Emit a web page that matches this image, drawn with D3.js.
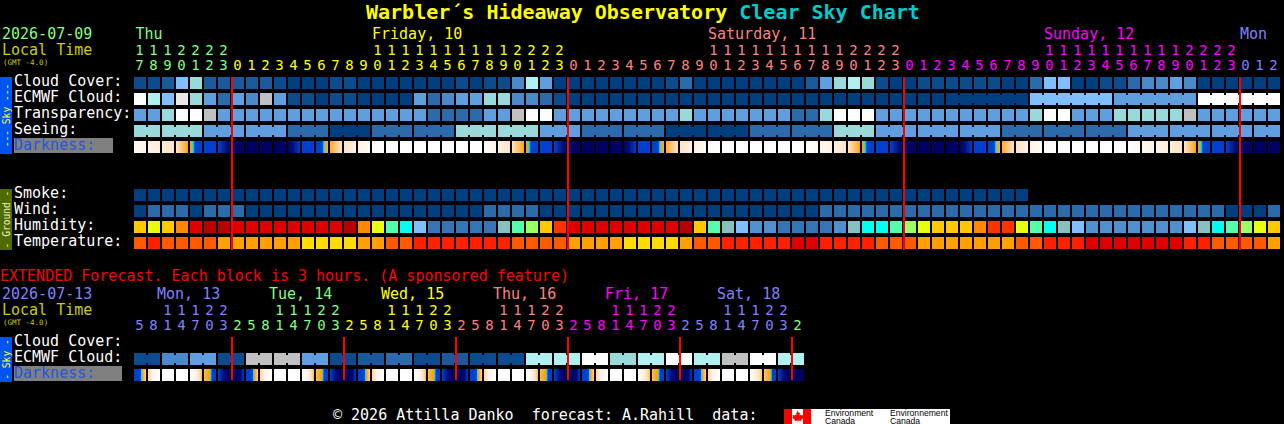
<!DOCTYPE html>
<html><head><meta charset="utf-8">
<script src="https://cdn.jsdelivr.net/npm/d3@7/dist/d3.min.js"></script>
<style>
html,body{margin:0;padding:0;background:#000;overflow:hidden}
svg{display:block}
text{font-family:"DejaVu Sans Mono",monospace;white-space:pre}
</style></head><body>
<svg id="c" width="1284" height="424"></svg>
<script>
// ---------- data ----------
const skyColors = ["#003f7f","#0c4c8c","#1a5a9a","#2b6bab","#4a8aca","#5f9fe0","#7fbfff","#99d9d9","#b0f0f0","#e8e8e8","#c0c0c0","#ffffff"];
const rowLabels = ["Cloud Cover:","ECMWF Cloud:","Transparency:","Seeing:","Darkness:"];
const groundLabels = ["Smoke:","Wind:","Humidity:","Temperature:"];

const cloudCover = [1,1,2,6,7,2,2,2,2,2,1,0,0,0,1,1,0,0,0,0,0,
  0,0,1,0,1,1,4,8,5,0,0,0,0,0,0,0,0,1,3,0,0,0,0,0,0,0,0,2,5,7,8,
  7,1,0,0,1,1,1,1,1,1,0,0,3,6,6,0,0,1,1,3,4,4,5,4,0,0,0,0,0,0];
const ecmwfCloud = [11,8,6,9,7,5,3,5,4,10,5,1,1,0,1,1,0,0,0,0,5,3,4,5,5,7,7,4,4,3,1,
  0,0,0,0,0,0,0,0,0,0,0,0,0,0,0,0,0,0,0,0,0,0,0,0,0,0,0,0,0,0,0,0,0,
  6,6,6,6,6,6,5,5,5,5,5,5,11,11,11,11,11,11];
const ecmwfBlocks = [1,1,1,1,1,1,1,1,1,1,1,1,1,1,1,1,1,1,1,1,1,1,1,1,1,1,1,1,1,
  1,1,1,1,1,1,1,1,1,1,1,1,1,1,1,1,1,1,1,1,1,1,1,1,1,1,1,1,1,6,6,6,6];
const transparency = [5,5,7,11,11,10,5,5,5,5,5,5,5,5,5,5,5,5,5,5,5,3,3,3,3,5,5,10,11,11,
  5,5,5,5,5,5,5,5,5,7,5,5,5,5,5,5,5,3,3,7,11,11,11,
  5,5,5,5,5,5,5,5,5,5,5,7,11,11,5,5,5,7,7,7,7,7,10,5,5,5,5,5,5];
const seeingBlockValues = [7,7,5,5,3,0,3,3,7,7,5,3,3,0,0,3,3,7,5,5,5,3,3,3,5,5,5,5];
const seeingBlocks = [2,3,3,3,3,3,3,3,3,3,3,3,3,3,3,3,3,3,3,3,3,3,3,3,3,3,3,2];
// darkness index at the left edge of each hour block (0 daylight .. 7 full dark)
const darkness = [0.4,0.9,1.3,1.8,3.5,5,5,6.2,7,7,7,6.5,5,5,3.3,1.9,1,0.3,0,0,0,0,0,0,
  0,0,1,1.9,3.5,5,5,6.2,7,7,7,6.5,5,5,3.3,1.9,1,0.3,0,0,0,0,0,0,
  0,0.5,1,1.8,3.5,5,5,6.2,7,7,7,6.5,5,5,3.3,1.9,1,0.3,0,0,0,0,0,0,
  0.5,0.9,1.3,1.8,3.5,5,5,6.2,7,7,7];
const smoke = [0,0,0,0,0,0,0,0,0,0,0,0,0,0,0,0,0,0,0,0,0,0,0,0,0,0,0,0,0,0,0,0,
  0,0,0,0,0,0,0,0,0,0,0,0,0,0,0,0,0,0,0,0,0,0,0,0,0,0,0,0,0,0,0,0];
const wind = [0,3,3,3,0,3,3,3,0,0,0,0,0,0,0,0,0,0,0,0,0,0,0,0,0,3,3,3,3,
  0,0,0,0,0,0,0,0,0,0,0,0,0,0,0,0,0,0,0,0,
  3,3,3,3,3,3,3,3,3,3,3,3,3,3,3,3,3,3,3,3,3,3,3,3,3,3,3,3,3,0,0,0,3];
const humidity = [67,62,67,72,87,97,97,87,87,87,87,87,87,87,87,97,72,62,52,47,37,
  27,27,27,27,27,42,52,57,67,77,87,87,87,87,87,87,87,87,97,67,52,42,37,32,32,27,27,27,27,32,42,
  47,47,52,57,62,67,67,67,72,77,77,62,52,47,42,37,32,32,32,32,32,32,32,37,42,47,52,57,62,67];
const humidityBins = [30,35,40,45,50,55,60,65,70,75,80,95];
const humidityColors = ["#3575b5","#5090d0","#7fbfff","#88c0c0","#00ffee","#55ffaa","#99ff66","#e8ff10","#ffc800","#ff8800","#ff3300","#e00000","#b80000"];
const temperature = [23,20,23,23,23,23,25,25,25,25,25,25,28,28,28,28,25,25,23,23,
  20,20,20,20,20,20,20,23,23,23,23,25,25,25,25,28,28,28,28,25,23,23,20,20,20,20,20,18,18,20,20,20,
  20,23,23,23,25,25,25,25,25,25,25,23,23,20,20,20,18,18,18,18,18,18,18,20,20,23,23,23,23,25];
const tempBins = [19,22,24,27];
const tempColors = ["#e00000","#ff2000","#ff5a00","#ffa000","#ffdd00"];

const hourTicks = [17,18,19,20,21,22,23,
  0,1,2,3,4,5,6,7,8,9,10,11,12,13,14,15,16,17,18,19,20,21,22,23,
  0,1,2,3,4,5,6,7,8,9,10,11,12,13,14,15,16,17,18,19,20,21,22,23,
  0,1,2,3,4,5,6,7,8,9,10,11,12,13,14,15,16,17,18,19,20,21,22,23,
  0,1,2];
const dayStarts = [0,7,31,55,79];
const dayNames = ["Thu","Friday, 10","Saturday, 11","Sunday, 12","Mon"];
const dayLabelCols = [0.1,17,41,65,79];
const dayColors = ["#80ff80","#ffff00","#ff8080","#ff00ff","#8080ff"];
const midnightCols = [7,31,55,79];

const extHours = [5,8,11,14,17,20,23, 2,5,8,11,14,17,20,23, 2,5,8,11,14,17,20,23, 2,5,8,11,14,17,20,23,
  2,5,8,11,14,17,20,23, 2,5,8,11,14,17,20,23, 2];
const extDayStarts = [0,7,15,23,31,39,47];
const extDayNames = ["Mon, 13","Tue, 14","Wed, 15","Thu, 16","Fri, 17","Sat, 18"];
const extDayColors = ["#8080ff","#80ff80","#ffff00","#ff8080","#ff00ff","#8080ff","#80ff80"];
const extDayLabelX = [157,269,381,493,605,717];
const extMidnights = [7,15,23,31,39,47];
const extCloudBlocks = [1,4,5,1,10,10,5,1,2,3,1,2,1,1,8,8,11,7,8,11,8,10,11,8];
// two samples for each block: left edge, middle; the next block's left edge closes it
const extDarkness = [5,4.4, 2.4,0.7, 0,0, 0,0, 0,1, 2.9,3.7, 5,6, 7,7,
  5,4.4, 2.4,0.7, 0,0, 0,0, 0,1, 2.9,3.7, 5,6, 7,7,
  5,4.4, 2.4,0.7, 0,0, 0,0, 0,1, 2.9,3.7, 5,6, 7,7,
  5,4.4, 2.4,0.7, 0,0, 0,0, 0,1, 2.9,3.7, 5,6, 7,7,
  5,4.4, 2.4,0.7, 0,0, 0,0, 0.2,1.3, 2.9,3.7, 5,6, 7,7,
  5,4.4, 2.4,0.7, 0,0, 0,0, 0.2,1.3, 2.7,3.6, 5,6, 7,7, 7];

// ---------- scales ----------
const svg = d3.select("#c");
const CELL = 12;
const x = d3.scaleLinear().domain([0,1]).range([134,148]);
const rowY = d3.scaleLinear().domain([0,1]).range([77,93]);
const groundY = d3.scaleLinear().domain([0,1]).range([189,205]);
const extY = d3.scaleOrdinal().domain(["cloud","ecmwf","dark"]).range([337,353,369]);
const sky = d3.scaleOrdinal().domain(d3.range(skyColors.length)).range(skyColors);
const hum = d3.scaleThreshold().domain(humidityBins).range(humidityColors);
const tem = d3.scaleThreshold().domain(tempBins).range(tempColors);
const dark = d3.scaleLinear()
  .domain([0,1,2,3,3.6,3.9,4.1,5,6,7])
  .range(["#ffffff","#fff2e4","#ffe0c0","#ffb84c","#ffa000","#00e0ff","#0040d0","#0040d0","#000a70","#000060"])
  .clamp(true);

const cells = svg.append("g").attr("shape-rendering","crispEdges");

function row(values, y, color, blocks){
  const g = cells.append("g");
  g.selectAll("rect.c").data(values).join("rect").attr("class","c")
    .attr("x",(d,i)=>x(i)).attr("y",y).attr("width",CELL).attr("height",CELL)
    .attr("fill",d=>color(d));
  if(blocks){
    let s=0; const joins=[];
    blocks.forEach(n=>{ for(let k=0;k<n-1;k++) joins.push({i:s+k,v:values[s+k]}); s+=n; });
    g.selectAll("rect.j").data(joins).join("rect").attr("class","j")
      .attr("x",d=>x(d.i)+CELL).attr("y",y+2).attr("width",x(1)-x(0)-CELL).attr("height",CELL-4)
      .attr("fill",d=>color(d.v));
  }
}
function expand(vals, blocks){ return vals.flatMap((v,i)=>d3.range(blocks[i]).map(()=>v)); }

function gradientRow(samples, perCell, y){
  const g = cells.append("g");
  const n = (samples.length-1)/perCell;
  d3.range(n).forEach(i=>{
    const px = d3.range(CELL).map(p=>{
      const t=(p+0.5)/CELL*perCell, a=Math.floor(t), f=t-a;
      const k=i*perCell+a;
      return {p, v: samples[k]*(1-f)+samples[k+1]*f};
    });
    g.append("g").selectAll("rect").data(px).join("rect")
      .attr("x",d=>x(i)+d.p).attr("y",y).attr("width",1).attr("height",CELL)
      .attr("fill",d=>dark(d.v));
  });
}

row(cloudCover, rowY(0), sky);
row(ecmwfCloud, rowY(1), sky, ecmwfBlocks);
row(transparency, rowY(2), sky);
row(expand(seeingBlockValues,seeingBlocks), rowY(3), sky, seeingBlocks);
gradientRow(darkness,1,rowY(4));
row(smoke, groundY(0), sky);
row(wind, groundY(1), sky);
row(humidity, groundY(2), hum);
row(temperature, groundY(3), tem);
const extBlockLens = extCloudBlocks.map(()=>2);
row(expand(extCloudBlocks,extBlockLens), extY("ecmwf"), sky, extBlockLens);
gradientRow(extDarkness,2,extY("dark"));

// midnight lines
cells.append("g").selectAll("rect").data(midnightCols).join("rect")
  .attr("x",d=>x(d)-1).attr("y",77).attr("width",2).attr("height",173).attr("fill","#ff0000");
cells.append("g").selectAll("rect").data(extMidnights).join("rect")
  .attr("x",d=>x(d)-1).attr("y",337).attr("width",2).attr("height",43).attr("fill","#ff0000");

// ---------- text ----------
function label(s,px,py,fill,size){
  return svg.append("text").attr("x",px).attr("y",py).attr("fill",fill).attr("font-size",size||15).text(s);
}
const title = svg.append("text").attr("x",366).attr("y",18.5).attr("font-size",20).attr("font-weight","bold");
title.append("tspan").attr("fill","#ffff00").text("Warbler\u00b4s Hideaway Observatory ");
title.append("tspan").attr("fill","#00cccc").text("Clear Sky Chart");

label("2026-07-09",2,39,"#80ff80");
label("Local Time",2,55,"#cccc00");
label("(GMT -4.0)",3,65,"#cccc00",7.5);
dayNames.forEach((d,i)=>label(d,x(dayLabelCols[i]),39,dayColors[i]));

function hourRows(ticks,starts,colors,yTens,yOnes){
  const col=i=>colors[d3.bisectRight(starts,i)-1];
  const g=svg.append("g").attr("font-size",14).attr("text-anchor","middle");
  g.selectAll("text.t").data(ticks.map((h,i)=>({h,i})).filter(d=>d.h>=10)).join("text").attr("class","t")
    .attr("x",d=>x(d.i)+CELL/2-0.5).attr("y",yTens).attr("fill",d=>col(d.i)).text(d=>Math.floor(d.h/10));
  g.selectAll("text.o").data(ticks.map((h,i)=>({h,i}))).join("text").attr("class","o")
    .attr("x",d=>x(d.i)+CELL/2-0.5).attr("y",yOnes).attr("fill",d=>col(d.i)).text(d=>d.h%10);
}
hourRows(hourTicks,dayStarts,dayColors,55,70);
hourRows(extHours,extDayStarts,extDayColors,315,330);

svg.append("rect").attr("x",14).attr("y",138).attr("width",99).attr("height",15).attr("fill","#808080");
rowLabels.forEach((s,i)=>label(s,14,rowY(i)+9.2,i==4?"#2255dd":"#ffffff"));
groundLabels.forEach((s,i)=>label(s,14,groundY(i)+9.2,"#ffffff"));

// side bars
function side(y0,h,fill,txt,txtFill){
  svg.append("rect").attr("x",0).attr("y",y0).attr("width",12).attr("height",h).attr("fill",fill);
  svg.append("text").attr("transform",`translate(9.5,${y0+h/2}) rotate(-90)`).attr("text-anchor","middle")
    .attr("font-size",9.6).attr("fill",txtFill).text(txt);
}
side(77,77,"#0055ee","--- Sky ---","#ffff33");
side(189,61,"#4f6b00","- Ground -","#eeeecc");
side(337,45,"#0055ee","- Sky -","#ffff33");

label("EXTENDED Forecast. Each block is 3 hours. (A sponsored feature)",0,281,"#ff0000");
label("2026-07-13",2,299,"#8080ff");
label("Local Time",2,315,"#cccc00");
label("(GMT -4.0)",3,325,"#cccc00",7.5);
extDayNames.forEach((d,i)=>label(d,extDayLabelX[i],299,extDayColors[i]));
svg.append("rect").attr("x",14).attr("y",366).attr("width",108).attr("height",15).attr("fill","#808080");
label("Cloud Cover:",14,346,"#fff");
label("ECMWF Cloud:",14,362,"#fff");
label("Darkness:",14,378,"#2255dd");

label("\u00a9 2026 Attilla Danko  forecast: A.Rahill  data:",333,420,"#fff");

// Environment Canada logo
const logo=svg.append("g");
logo.append("rect").attr("x",784).attr("y",409).attr("width",166).attr("height",15).attr("fill","#fff");
logo.append("rect").attr("x",784).attr("y",409).attr("width",8).attr("height",15).attr("fill","#ff0000");
logo.append("rect").attr("x",803).attr("y",409).attr("width",8).attr("height",15).attr("fill","#ff0000");
logo.append("path").attr("d","M797.5 410.5l1.5 2.5 1-.5-.5 3 1.5-1 .5 1 2-.5-.5 2 1 .5-3 2.5.3 1-3-.4v2h-.6v-2l-3 .4.3-1-3-2.5 1-.5-.5-2 2 .5.5-1 1.5 1-.5-3 1 .5z").attr("fill","#ff0000");
[["Environment",825,416],["Canada",825,423.5],["Environnement",890,416],["Canada",890,423.5]].forEach(d=>{
  svg.append("text").attr("x",d[1]).attr("y",d[2]).attr("font-size",8.6).attr("fill","#000")
    .style("font-family","'Liberation Sans',sans-serif").text(d[0]);
});
</script>
</body></html>
